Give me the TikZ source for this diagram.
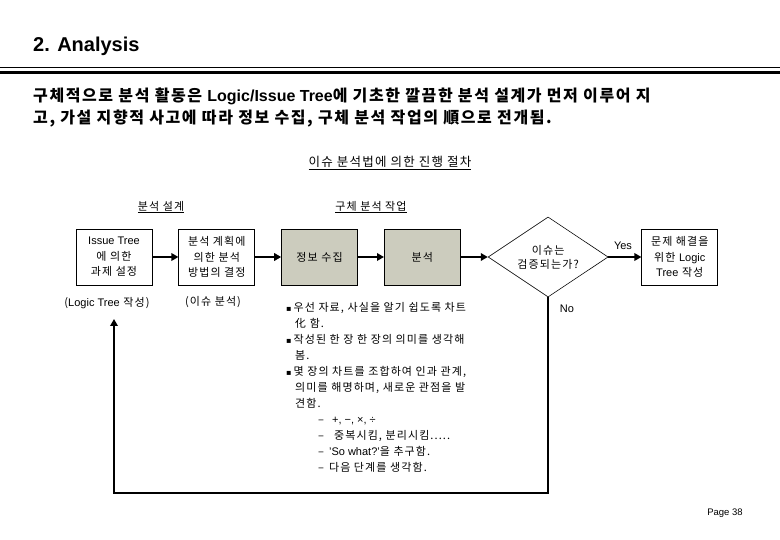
\documentclass[tikz,border=0pt]{standalone}
\usepackage{fontspec}
\setmainfont{Liberation Sans}
\newfontfamily\kr[LetterSpace=10]{Noto Sans CJK KR}
\newfontfamily\sym{DejaVu Sans}
\newcommand\en{\normalfont}
\newcommand\bul{{\sym\fontsize{8}{8}\selectfont ▪}\hspace{2pt}}
\usetikzlibrary{arrows.meta,positioning,shapes.geometric}
\definecolor{khaki}{RGB}{204,204,190}

\begin{document}
\begin{tikzpicture}[x=1pt, y=-1pt, >={Triangle[length=7pt,width=7.5pt]}, node distance=26pt,
  stepbox/.style={draw, line width=0.8pt, minimum width=76pt, minimum height=56pt, inner sep=0pt, align=center, font=\kr\fontsize{11}{15.5}\selectfont},
  graybox/.style={stepbox, fill=khaki},
  flow/.style={->, line width=2.6pt},
  note/.style={inner sep=0pt, font=\kr\fontsize{11}{16}\selectfont}]
  \useasboundingbox (0,0) rectangle (780,540);
  % heading
  \node[anchor=west, inner sep=0pt, font=\bfseries\fontsize{20}{24}\selectfont](title) at (33,46){2. Analysis};
  \draw[line width=1pt] (0,67.5) -- (780,67.5);
  \draw[line width=3pt] (0,72.5) -- (780,72.5);
  \node[anchor=west, align=left, inner sep=0pt, font=\kr\bfseries\fontsize{16}{22}\selectfont](intro) at (33,108){구체적으로 분석 활동은 {\en\bfseries Logic/Issue Tree}에 기초한 깔끔한 분석 설계가 먼저 이루어 지\\고, 가설 지향적 사고에 따라 정보 수집, 구체 분석 작업의 順으로 전개됨.};
  \node[note, font=\kr\fontsize{12.5}{14}\selectfont](proc) at (390,163){\underline{이슈 분석법에 의한 진행 절차}};
  \node[note, font=\kr\fontsize{11}{12}\selectfont](design) at (161,207){\underline{분석 설계}};
  \node[note, font=\kr\fontsize{11}{12}\selectfont](work) at (371,207){\underline{구체 분석 작업}};
  % flow
  \node[stepbox](box1) at (114,257){{\en Issue Tree}\\에 의한\\과제 설정};
  \node[stepbox, right=of box1](box2){분석 계획에\\의한 분석\\방법의 결정};
  \node[graybox, right=of box2](box3){정보 수집};
  \node[graybox, right=of box3](box4){분석};
  \node[draw, diamond, shape aspect=1.7, line width=0.6pt, minimum width=120pt, minimum height=80pt, inner sep=0pt, align=center, font=\kr\fontsize{11}{14}\selectfont, right=27pt of box4](check){이슈는\\검증되는가?};
  \node[stepbox, right=33pt of check](box5){문제 해결을\\위한 {\en Logic}\\{\en Tree} 작성};
  \foreach \a/\b in {box1/box2,box2/box3,box3/box4,box4/check,check/box5}{\draw[flow](\a)--(\b);}
  \node[note, font=\fontsize{11}{13}\selectfont](yes) at (623,246){Yes};
  \node[note, font=\fontsize{11}{13}\selectfont](no) at (567,309){No};
  \coordinate (bendR) at (check.south |- 0,493);
  \coordinate (bendL) at (box1.south |- 0,493);
  \coordinate (back) at (box1.south |- 0,319);
  \draw[flow](check.south)--(bendR)--(bendL)--(back);
  % notes under the boxes
  \node[note](lt) at (107,303){({\en Logic Tree} 작성)};
  \node[note](ia) at (213,302){(이슈 분석)};
  \node[note, anchor=north west, align=left](detail) at (286,302){%
    \bul 우선 자료, 사실을 알기 쉽도록 차트\\
    \hspace*{9pt}化 함.\\
    \bul 작성된 한 장 한 장의 의미를 생각해\\
    \hspace*{9pt}봄.\\
    \bul 몇 장의 차트를 조합하여 인과 관계,\\
    \hspace*{9pt}의미를 해명하며, 새로운 관점을 발\\
    \hspace*{9pt}견함.\\
    \hspace*{32pt}–\hspace{8pt}{\en +, −, ×, ÷}\\
    \hspace*{32pt}–\hspace{10pt}중복시킴, 분리시킴.....\\
    \hspace*{32pt}–\hspace{5pt}{\en 'So what?'}을 추구함.\\
    \hspace*{32pt}–\hspace{5pt}다음 단계를 생각함.};
  \node[note, font=\fontsize{9.5}{11}\selectfont](page) at (725,513){Page 38};
\end{tikzpicture}
\end{document}
